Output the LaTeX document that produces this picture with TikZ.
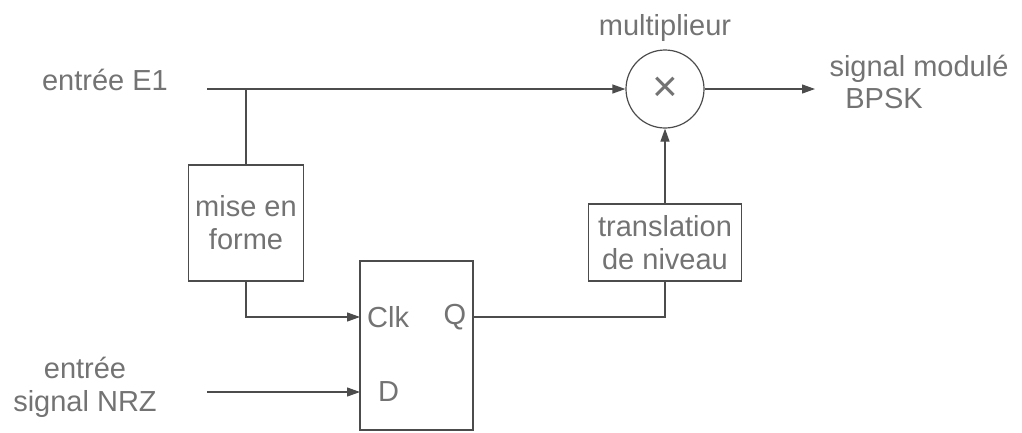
\documentclass[tikz,border=0pt]{standalone}
\usepackage{fontspec}
\setmainfont{Liberation Sans}
\usetikzlibrary{arrows.meta}
\begin{document}
\begin{tikzpicture}[x=1pt,y=-1pt,
  txt/.style={text=black!55, font=\fontsize{29}{33}\selectfont, inner sep=0pt, align=center},
  blk/.style={draw=black!70, line width=1.2pt, inner sep=0pt, text=black!55, font=\fontsize{29}{33}\selectfont, align=center},
  wire/.style={draw=black!70, line width=1.2pt},
  arr/.style={wire, -{Triangle[length=13pt,width=9pt]}}]
\useasboundingbox (0,0) rectangle (1022,432);
% blocks
\node[blk, circle, minimum size=78pt] (mul) at (665,89) {\fontsize{44}{44}\selectfont ×};
\node[blk, minimum width=115pt, minimum height=116pt] (mef) at (246,223) {mise en\\forme};
\node[blk, minimum width=113pt, minimum height=169pt] (ff) at (416.5,345.5) {};
\node[blk, minimum width=153pt, minimum height=77pt] (tr) at (665,242.5) {translation\\de niveau};
% labels
\node[txt] (le1) at (105,80) {entrée E1};
\node[txt] (lmul) at (665,28) {multiplieur};
\node[txt] (lout1) at (919,69) {signal modulé};
\node[txt] (lout2) at (884,99) {BPSK};
\node[txt] (lnrz) at (85,387) {entrée\\signal NRZ};
\node[txt, anchor=west] (lclk) at (367,317) {Clk};
\node[txt] (lq) at (455,317) {Q};
\node[txt, anchor=west] (ld) at (378,392) {D};
% coordinates
\coordinate (e1) at (207,89);
\coordinate (j) at (246,89);
\coordinate (clk) at (360,317);
\coordinate (q) at (473,317);
\coordinate (nrz) at (207,392);
\coordinate (d) at (360,392);
\coordinate (out) at (815,89);
% connectors
\draw[arr] (e1) -- (mul.west);
\draw[wire] (j) -- (mef.north);
\draw[arr] (mef.south) |- (clk);
\draw[arr] (nrz) -- (d);
\draw[wire] (q) -| (tr.south);
\draw[arr] (tr.north) -- (mul.south);
\draw[arr] (mul.east) -- (out);
\end{tikzpicture}
\end{document}
